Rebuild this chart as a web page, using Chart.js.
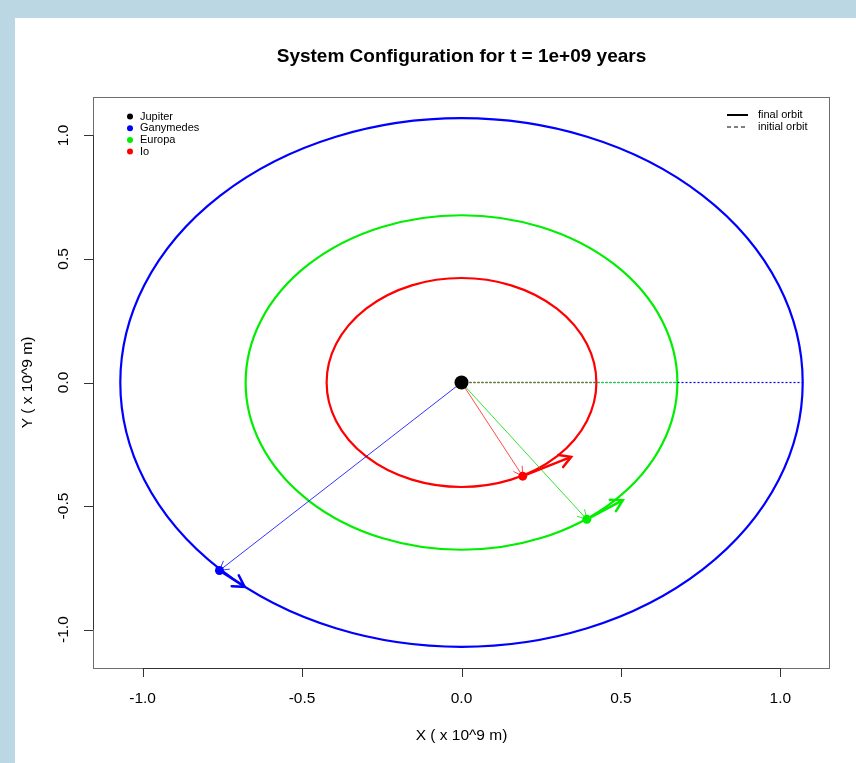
<!DOCTYPE html>
<html>
<head>
    <title>System Configuration</title>
    <script src="https://cdn.jsdelivr.net/npm/chart.js"></script>
    <style>
        html, body { margin: 0; padding: 0; background: #bbd7e3; overflow: hidden; }
        #panel { position: absolute; left: 15px; top: 18px; width: 841px; height: 745px; background: #ffffff; }
        canvas { display: block; }
    </style>
</head>
<body>
    <div id="panel"><canvas id="orbitChart" width="841" height="745"></canvas></div>

    <script>
        // bodies (moons in order Ganymedes, Europa, Io), units of 10^9 m
        var bodyNames = ['Jupiter', 'Ganymedes', 'Europa', 'Io'];
        var orbitRadius = [1.07, 0.677, 0.423];
        var moonX = [-0.759, 0.393, 0.192];
        var moonY = [-0.761, -0.554, -0.379];
        var velTipX = [-0.680, 0.506, 0.344];
        var velTipY = [-0.827, -0.476, -0.301];
        var xTicks = [-1.0, -0.5, 0.0, 0.5, 1.0];
        var yTicks = [-1.0, -0.5, 0.0, 0.5, 1.0];
        var axisLimit = 1.1556;

        var moonColors = ['#0000ff', '#00ee00', '#ff0000'];
        var vectorColors = ['rgba(0,0,255,0.8)', 'rgba(0,220,0,0.8)', 'rgba(255,0,0,0.7)'];
        var dottedColors = ['#0000ff', '#00ee00', 'rgba(200,40,0,0.65)'];
        var FONT = "'Liberation Sans', Arial, Helvetica, sans-serif";

        function arrowHead(ctx, x0, y0, x1, y1, len, color, width) {
            var a = Math.atan2(y1 - y0, x1 - x0);
            ctx.save();
            ctx.strokeStyle = color;
            ctx.lineWidth = width;
            ctx.lineCap = 'round';
            ctx.beginPath();
            ctx.moveTo(x1 - len * Math.cos(a - Math.PI / 6), y1 - len * Math.sin(a - Math.PI / 6));
            ctx.lineTo(x1, y1);
            ctx.lineTo(x1 - len * Math.cos(a + Math.PI / 6), y1 - len * Math.sin(a + Math.PI / 6));
            ctx.stroke();
            ctx.restore();
        }

        var decorPlugin = {
            id: 'decor',
            beforeDatasetsDraw: function(chart) {
                var ctx = chart.ctx, xs = chart.scales.x, ys = chart.scales.y;
                var cx = xs.getPixelForValue(0), cy = ys.getPixelForValue(0);
                // final orbits
                for (var i = 0; i < orbitRadius.length; i++) {
                    var rx = xs.getPixelForValue(orbitRadius[i]) - cx;
                    var ry = cy - ys.getPixelForValue(orbitRadius[i]);
                    ctx.save();
                    ctx.strokeStyle = moonColors[i];
                    ctx.lineWidth = 2.2;
                    ctx.beginPath();
                    ctx.ellipse(cx, cy, rx, ry, 0, 0, Math.PI * 2);
                    ctx.stroke();
                    ctx.restore();
                }
            },
            afterDatasetsDraw: function(chart) {
                var ctx = chart.ctx, xs = chart.scales.x, ys = chart.scales.y;
                var cx = xs.getPixelForValue(0), cy = ys.getPixelForValue(0);
                for (var i = 0; i < moonX.length; i++) {
                    var mx = xs.getPixelForValue(moonX[i]), my = ys.getPixelForValue(moonY[i]);
                    arrowHead(ctx, cx, cy, mx, my, 10, vectorColors[i], 1);
                    arrowHead(ctx, mx, my, xs.getPixelForValue(velTipX[i]), ys.getPixelForValue(velTipY[i]), 13, moonColors[i], 2.5);
                }
            },
            afterDraw: function(chart) {
                var ctx = chart.ctx, a = chart.chartArea, xs = chart.scales.x, ys = chart.scales.y;
                ctx.save();
                // box
                ctx.strokeStyle = '#6e6e6e';
                ctx.lineWidth = 1;
                ctx.strokeRect(a.left + 0.5, a.top + 0.5, a.right - a.left - 1, a.bottom - a.top);
                // axes
                ctx.strokeStyle = '#333333';
                ctx.beginPath();
                ctx.moveTo(xs.getPixelForValue(xTicks[0]), a.bottom + 0.5);
                ctx.lineTo(xs.getPixelForValue(xTicks[xTicks.length - 1]), a.bottom + 0.5);
                ctx.moveTo(a.left + 0.5, ys.getPixelForValue(yTicks[0]));
                ctx.lineTo(a.left + 0.5, ys.getPixelForValue(yTicks[yTicks.length - 1]));
                xTicks.forEach(function(v) {
                    var px = Math.round(xs.getPixelForValue(v)) + 0.5;
                    ctx.moveTo(px, a.bottom);
                    ctx.lineTo(px, a.bottom + 9);
                });
                yTicks.forEach(function(v) {
                    var py = Math.round(ys.getPixelForValue(v)) + 0.5;
                    ctx.moveTo(a.left, py);
                    ctx.lineTo(a.left - 9, py);
                });
                ctx.stroke();

                ctx.fillStyle = '#000000';
                ctx.font = '15.5px ' + FONT;
                ctx.textAlign = 'center';
                ctx.textBaseline = 'middle';
                xTicks.forEach(function(v) {
                    ctx.fillText(v.toFixed(1), xs.getPixelForValue(v), a.bottom + 31);
                });
                yTicks.forEach(function(v) {
                    ctx.save();
                    ctx.translate(a.left - 29, ys.getPixelForValue(v));
                    ctx.rotate(-Math.PI / 2);
                    ctx.fillText(v.toFixed(1), 0, 0);
                    ctx.restore();
                });

                // axis titles and main title
                var midX = (a.left + a.right) / 2, midY = (a.top + a.bottom) / 2;
                ctx.fillText('X ( x 10^9 m)', midX, a.bottom + 68);
                ctx.save();
                ctx.translate(a.left - 65, midY);
                ctx.rotate(-Math.PI / 2);
                ctx.fillText('Y ( x 10^9 m)', 0, 0);
                ctx.restore();
                ctx.font = 'bold 19px ' + FONT;
                ctx.fillText('System Configuration for t = 1e+09 years', midX, a.top - 40);

                // body legend
                var legColors = ['#000000'].concat(moonColors);
                ctx.font = '11px ' + FONT;
                ctx.textAlign = 'left';
                for (var i = 0; i < bodyNames.length; i++) {
                    var ly = a.top + 19.5 + i * 11.7;
                    ctx.fillStyle = legColors[i];
                    ctx.beginPath();
                    ctx.arc(a.left + 37, ly, 3, 0, Math.PI * 2);
                    ctx.fill();
                    ctx.fillStyle = '#000000';
                    ctx.fillText(bodyNames[i], a.left + 47, ly);
                }

                // line style legend
                ctx.strokeStyle = '#000000';
                ctx.lineWidth = 2;
                ctx.beginPath();
                ctx.moveTo(a.right - 103, a.top + 18);
                ctx.lineTo(a.right - 82, a.top + 18);
                ctx.stroke();
                ctx.lineWidth = 1;
                ctx.setLineDash([4, 3]);
                ctx.beginPath();
                ctx.moveTo(a.right - 103, a.top + 30);
                ctx.lineTo(a.right - 82, a.top + 30);
                ctx.stroke();
                ctx.setLineDash([]);
                ctx.fillText('final orbit', a.right - 72, a.top + 18);
                ctx.fillText('initial orbit', a.right - 72, a.top + 30);
                ctx.restore();
            }
        };

        var datasets = [];
        // initial orbits (dotted radii along +x)
        for (var i = 0; i < orbitRadius.length; i++) {
            datasets.push({
                data: [{x: 0, y: 0}, {x: orbitRadius[i], y: 0}],
                showLine: true, borderColor: dottedColors[i], borderWidth: 1.2,
                borderDash: [2, 2], pointRadius: 0
            });
        }
        // position vectors
        for (var i = 0; i < moonX.length; i++) {
            datasets.push({
                data: [{x: 0, y: 0}, {x: moonX[i], y: moonY[i]}],
                showLine: true, borderColor: vectorColors[i], borderWidth: 1, pointRadius: 0
            });
        }
        // velocity vectors
        for (var i = 0; i < moonX.length; i++) {
            datasets.push({
                data: [{x: moonX[i], y: moonY[i]}, {x: velTipX[i], y: velTipY[i]}],
                showLine: true, borderColor: moonColors[i], borderWidth: 2.5, pointRadius: 0
            });
        }
        // moons
        for (var i = 0; i < moonX.length; i++) {
            datasets.push({
                label: bodyNames[i + 1],
                data: [{x: moonX[i], y: moonY[i]}],
                showLine: false, pointRadius: 4.5, pointBorderWidth: 0,
                pointBackgroundColor: moonColors[i], borderColor: moonColors[i]
            });
        }
        // Jupiter
        datasets.push({
            label: bodyNames[0],
            data: [{x: 0, y: 0}],
            showLine: false, pointRadius: 7, pointBorderWidth: 0,
            pointBackgroundColor: '#000000', borderColor: '#000000'
        });
        // Chart.js paints the first dataset on top, so later ones must come first
        datasets.reverse();

        var ctx = document.getElementById('orbitChart').getContext('2d');
        window.myChart = new Chart(ctx, {
            type: 'scatter',
            data: { datasets: datasets },
            options: {
                responsive: false,
                animation: false,
                layout: { padding: { left: 78, right: 26, top: 79, bottom: 95 } },
                plugins: { legend: { display: false }, tooltip: { enabled: false } },
                scales: {
                    x: { type: 'linear', display: false, min: -axisLimit, max: axisLimit },
                    y: { type: 'linear', display: false, min: -axisLimit, max: axisLimit }
                }
            },
            plugins: [decorPlugin]
        });
    </script>
</body>
</html>
